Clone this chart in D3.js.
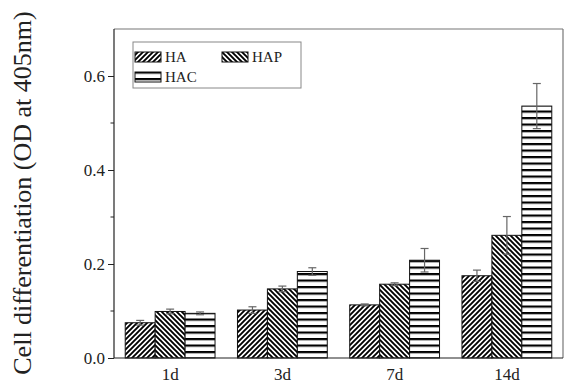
<!DOCTYPE html>
<html>
<head>
<meta charset="utf-8">
<script src="https://cdn.jsdelivr.net/npm/d3@7"></script>
<style>
  body { margin: 0; background: #fff; }
  text { font-family: "Liberation Serif", "Times New Roman", serif; fill: #222; }
</style>
</head>
<body>
<div id="chart"></div>
<script>
// data
var days = ["1d", "3d", "7d", "14d"];
var seriesNames = ["HA", "HAP", "HAC"];
var haValues = [0.075, 0.102, 0.113, 0.175];
var hapValues = [0.099, 0.147, 0.157, 0.261];
var hacValues = [0.095, 0.184, 0.208, 0.536];
var haErr = [0.005, 0.007, 0.002, 0.012];
var hapErr = [0.005, 0.006, 0.003, 0.040];
var hacErr = [0.003, 0.008, 0.025, 0.048];
var yTicks = [0, 0.2, 0.4, 0.6];
var yMinor = [0.1, 0.3, 0.5];

var width = 568,
  height = 385;
var plotLeft = 114, plotRight = 563, plotTop = 29, plotBottom = 358;

var svg = d3.select('#chart')
  .append('svg')
  .attr('width', width)
  .attr('height', height)

// hatch patterns
var defs = svg.append('defs');
var pHA = defs.append('pattern').attr('id', 'pHA')
  .attr('patternUnits', 'userSpaceOnUse').attr('width', 5).attr('height', 5);
pHA.append('rect').attr('width', 5).attr('height', 5).attr('fill', '#fff');
pHA.append('path').attr('d', 'M-1,1 L1,-1 M0,5 L5,0 M4,6 L6,4')
  .attr('stroke', '#000').attr('stroke-width', 1.9);

var pHAP = defs.append('pattern').attr('id', 'pHAP')
  .attr('patternUnits', 'userSpaceOnUse').attr('width', 5).attr('height', 5);
pHAP.append('rect').attr('width', 5).attr('height', 5).attr('fill', '#fff');
pHAP.append('path').attr('d', 'M-1,4 L1,6 M0,0 L5,5 M4,-1 L6,1')
  .attr('stroke', '#000').attr('stroke-width', 1.9);

var pHAC = defs.append('pattern').attr('id', 'pHAC')
  .attr('patternUnits', 'userSpaceOnUse').attr('width', 6).attr('height', 6.5);
pHAC.append('rect').attr('width', 6).attr('height', 6.5).attr('fill', '#fff');
pHAC.append('rect').attr('y', 0).attr('width', 6).attr('height', 2.2).attr('fill', '#000');

var fills = { HA: 'url(#pHA)', HAP: 'url(#pHAP)', HAC: 'url(#pHAC)' };

var data = [];
days.forEach(function (d, i) {
  data.push({ day: d, name: "HA", value: haValues[i], err: haErr[i] });
  data.push({ day: d, name: "HAP", value: hapValues[i], err: hapErr[i] });
  data.push({ day: d, name: "HAC", value: hacValues[i], err: hacErr[i] });
});

var x0 = d3.scaleBand().domain(days).range([plotLeft, plotRight]).paddingInner(0.2).paddingOuter(0.1);
var x1 = d3.scaleBand().domain(seriesNames).range([0, x0.bandwidth()]);
var y = d3.scaleLinear().domain([0, 0.7]).range([plotBottom, plotTop]);

// frame top and right
svg.append('line').attr('x1', plotLeft).attr('x2', plotRight).attr('y1', plotTop).attr('y2', plotTop)
  .attr('stroke', '#777').attr('stroke-width', 1.2);
svg.append('line').attr('x1', plotRight).attr('x2', plotRight).attr('y1', plotTop).attr('y2', plotBottom)
  .attr('stroke', '#777').attr('stroke-width', 1.2);

// bars
svg.selectAll('rect.bar')
  .data(data)
  .join('rect')
  .attr('class', 'bar')
  .attr('x', d => x0(d.day) + x1(d.name))
  .attr('y', d => y(d.value))
  .attr('width', x1.bandwidth())
  .attr('height', d => y(0) - y(d.value))
  .attr('fill', d => fills[d.name])
  .attr('stroke', '#111')
  .attr('stroke-width', 1);

// error bars
var eb = svg.selectAll('g.err')
  .data(data)
  .join('g')
  .attr('class', 'err')
  .attr('stroke', '#666')
  .attr('stroke-width', 1.2);
eb.append('line')
  .attr('x1', d => x0(d.day) + x1(d.name) + x1.bandwidth() / 2)
  .attr('x2', d => x0(d.day) + x1(d.name) + x1.bandwidth() / 2)
  .attr('y1', d => y(d.value - d.err))
  .attr('y2', d => y(d.value + d.err));
[1, -1].forEach(function (s) {
  eb.append('line')
    .attr('x1', d => x0(d.day) + x1(d.name) + x1.bandwidth() / 2 - 4)
    .attr('x2', d => x0(d.day) + x1(d.name) + x1.bandwidth() / 2 + 4)
    .attr('y1', d => y(d.value + s * d.err))
    .attr('y2', d => y(d.value + s * d.err));
});

// y axis
var yAxis = svg.append('g')
  .attr('transform', 'translate(' + plotLeft + ',0)')
  .call(d3.axisLeft(y).tickValues(yTicks).tickFormat(d3.format('.1f')).tickSize(6).tickPadding(3));
yAxis.select('.domain').attr('stroke', '#222').attr('stroke-width', 1.2).attr('d', 'M0,' + plotTop + 'V' + plotBottom);
yAxis.selectAll('.tick line').attr('stroke', '#222');
yAxis.selectAll('.tick text')
  .style('font-family', '"Liberation Serif", serif')
  .style('font-size', '17px')
  .attr('fill', '#222');
svg.append('g').selectAll('line')
  .data(yMinor)
  .join('line')
  .attr('x1', plotLeft - 3.5).attr('x2', plotLeft)
  .attr('y1', d => y(d)).attr('y2', d => y(d))
  .attr('stroke', '#222');

// x axis
svg.append('line').attr('x1', plotLeft).attr('x2', plotRight).attr('y1', plotBottom).attr('y2', plotBottom)
  .attr('stroke', '#222').attr('stroke-width', 1.2);
svg.selectAll('text.xlab')
  .data(days)
  .join('text')
  .attr('class', 'xlab')
  .attr('x', d => x0(d) + x0.bandwidth() / 2)
  .attr('y', 380)
  .attr('text-anchor', 'middle')
  .style('font-size', '17px')
  .text(d => d);

// y label
svg.append('text')
  .attr('transform', 'translate(31,193) rotate(-90)')
  .attr('text-anchor', 'middle')
  .style('font-size', '26px')
  .text('Cell differentiation (OD at 405nm)');

// legend
var legend = svg.append('g');
legend.append('rect')
  .attr('x', 133).attr('y', 42).attr('width', 168).attr('height', 46)
  .attr('fill', 'none').attr('stroke', '#888').attr('stroke-width', 1);
var legPos = [[135, 52], [222, 52], [135, 72]];
seriesNames.forEach(function (s, i) {
  legend.append('rect')
    .attr('x', legPos[i][0]).attr('y', legPos[i][1])
    .attr('width', 26).attr('height', 10)
    .attr('fill', fills[s]).attr('stroke', '#111');
  legend.append('text')
    .attr('x', legPos[i][0] + 30).attr('y', legPos[i][1] + 10)
    .style('font-size', '15px')
    .text(s);
});
</script>
</body>
</html>
